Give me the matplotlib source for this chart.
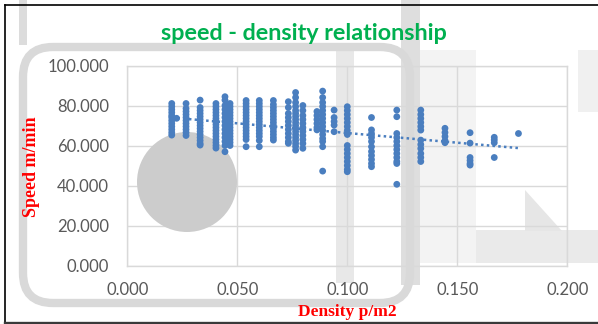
import numpy as np
import matplotlib
matplotlib.use('Agg')
import matplotlib.pyplot as plt
from matplotlib.patches import Ellipse, FancyBboxPatch, Rectangle, Polygon
from matplotlib.transforms import IdentityTransform

W, H = 598, 324

## Data: one density column -> list of speeds
densities = [0.0202, 0.0224, 0.0267, 0.0331, 0.0403, 0.0444, 0.0467, 0.0540,
             0.0600, 0.0664, 0.0732, 0.0765, 0.0798, 0.0862, 0.0888, 0.0940,
             0.1000, 0.1110, 0.1225, 0.1334, 0.1444, 0.1558, 0.1668, 0.1778]
speeds = [
    [81.0, 79.5, 78.0, 76.5, 75.0, 74.0, 72.5, 71.0, 69.5, 68.0, 66.5, 65.2],
    [73.6],
    [81.0, 78.5, 77.0, 75.5, 74.0, 72.5, 71.0, 69.5, 68.0, 66.5, 65.0],
    [82.7, 79.0, 77.5, 76.0, 74.5, 73.0, 71.5, 70.0, 68.5, 67.0, 65.5, 64.0, 62.5, 61.0, 60.2],
    [81.0, 79.5, 78.0, 76.5, 75.0, 73.5, 72.0, 70.5, 69.0, 67.5, 66.0, 64.5, 63.0, 61.5, 60.0, 58.7],
    [84.4, 82.7, 80.0, 78.0, 76.0, 74.0, 72.0, 70.0, 68.0, 66.0, 64.0, 62.0, 60.0, 56.9],
    [81.0, 79.5, 78.0, 76.5, 75.0, 73.5, 72.0, 70.5, 69.0, 67.5, 66.0, 64.5, 63.0, 61.5, 60.0],
    [82.5, 81.0, 79.5, 78.0, 76.5, 75.0, 73.5, 72.0, 70.5, 69.0, 67.5, 66.0, 64.5, 63.0, 59.4],
    [82.5, 81.0, 79.5, 78.0, 76.5, 75.0, 73.5, 72.0, 70.5, 69.0, 67.5, 66.0, 64.5, 62.5, 59.4],
    [82.5, 80.5, 79.0, 77.5, 76.0, 74.5, 73.0, 71.5, 70.0, 68.5, 67.0, 65.5, 64.0, 62.7],
    [81.9, 79.0, 76.0, 74.0, 72.0, 70.0, 68.0, 66.0, 64.0, 62.0, 61.1],
    [86.5, 84.0, 81.5, 79.5, 77.5, 76.0, 74.5, 73.0, 71.5, 70.0, 68.5, 67.0, 65.5, 64.0, 62.5, 61.0, 59.5, 57.7],
    [80.0, 77.5, 75.0, 73.0, 71.0, 69.0, 67.0, 65.0, 63.0, 61.0, 58.6],
    [77.0, 75.0, 73.0, 71.0, 69.0, 67.8],
    [87.2, 84.0, 81.5, 79.5, 77.5, 75.5, 73.5, 71.5, 69.5, 67.5, 65.5, 63.5, 62.0, 59.4, 47.2],
    [77.7, 74.0, 72.0, 70.2, 66.9],
    [79.4, 77.5, 75.5, 73.5, 71.5, 69.5, 67.5, 65.5, 60.0, 58.0, 56.0, 54.0, 52.0, 50.0, 48.0, 46.9],
    [74.0, 67.8, 66.0, 64.0, 62.0, 59.4, 57.0, 55.0, 53.0, 51.0, 49.4],
    [77.7, 74.4, 66.0, 64.0, 62.0, 60.0, 58.0, 56.0, 54.0, 52.0, 51.0, 40.6],
    [77.7, 75.5, 73.5, 71.5, 69.5, 67.7, 62.7, 60.5, 58.5, 56.0, 54.0, 52.0],
    [68.6, 66.5, 64.5, 62.5, 61.4],
    [66.4, 61.2, 54.0, 52.5, 51.0, 50.2],
    [64.1, 62.8, 61.4, 54.0],
    [66.0],
]

x_ticks = [0.0, 0.05, 0.10, 0.15, 0.20]
y_ticks = [0, 20, 40, 60, 80, 100]

title = 'speed - density relationship'
x_label = 'Density p/m2'
y_label = 'Speed m/min'

blue = '#4a7ebf'

x = np.concatenate([[d] * len(s) for d, s in zip(densities, speeds)])
y = np.concatenate(speeds)

fig = plt.figure(figsize=(W / 100, H / 100), dpi=100)
fig.patch.set_facecolor('white')

def pix(px, py):
    # top-left pixel coords -> display coords
    return px, H - py

grey_kw = dict(transform=IdentityTransform(), zorder=-1, linewidth=0)

# washed out overlay shapes sitting behind the chart
fig.patches.append(Rectangle(pix(420, 263), 56, 213, facecolor='#f3f3f3', **grey_kw))
fig.patches.append(Rectangle(pix(336, 283), 18, 238, facecolor='#e8e8e8', **grey_kw))
fig.patches.append(Rectangle(pix(401, 285), 19, 285, facecolor='#dedede', **grey_kw))
fig.patches.append(Rectangle(pix(19, 45), 8, 45, facecolor='#dcdcdc', **grey_kw))
fig.patches.append(Rectangle(pix(476, 263), 122, 33, facecolor='#eaeaea', **grey_kw))
fig.patches.append(Rectangle(pix(578, 112), 20, 62, facecolor='#f0f0f0', **grey_kw))
fig.patches.append(Polygon([pix(525, 190), pix(562, 231), pix(525, 231)],
                           closed=True, facecolor='#e6e6e6', **grey_kw))
fx, fy = pix(23, 303)
fig.patches.append(FancyBboxPatch((fx, fy), 387, 256,
                                  boxstyle='round,pad=0,rounding_size=30',
                                  facecolor='none', edgecolor='#d9d9d9',
                                  linewidth=6, transform=IdentityTransform(), zorder=-1))

ax = fig.add_axes([127.3 / W, 1 - 265.5 / H, 440 / W, 200 / H])
ax.set_facecolor('none')

# big grey disc over the grid
cx, cy = pix(187, 182)
disc = Ellipse((cx, cy), 100, 100, transform=IdentityTransform(),
               facecolor='#cccccc', edgecolor='none', zorder=1.8)
ax.add_artist(disc)

ax.scatter(x, y, s=24, color=blue, edgecolors='none', zorder=3)

# linear trendline
k, b = np.polyfit(x, y, 1)
xt = np.array([x.min(), x.max()])
ax.plot(xt, k * xt + b, color=blue, linestyle=(0, (1, 1.3)), linewidth=1.8, zorder=2.5)

ax.set_xlim(0, 0.2)
ax.set_ylim(0, 100)
ax.set_xticks(x_ticks)
ax.set_yticks(y_ticks)
ax.set_xticklabels(['%.3f' % v for v in x_ticks])
ax.set_yticklabels(['%.3f' % v for v in y_ticks])
ax.tick_params(length=0, labelcolor='#595959', labelsize=12)
ax.tick_params(axis='x', pad=12)
ax.tick_params(axis='y', pad=13)
for lab in ax.get_xticklabels() + ax.get_yticklabels():
    lab.set_family('Lato')
ax.grid(True, color='#d9d9d9', linewidth=1)
for sp in ax.spines.values():
    sp.set_color('#d9d9d9')
    sp.set_linewidth(1)

fig.text(304 / W, 1 - 33 / H, title, color='#00b050', fontsize=16.8,
         fontweight='bold', family='Lato', ha='center', va='center')
fig.text(31.7 / W, 1 - 166.5 / H, y_label, color='red', fontsize=13,
         fontweight='bold', family='Liberation Serif', rotation=90,
         ha='center', va='center')
fig.text(347 / W, 1 - 304 / H, x_label, color='red', fontsize=12.5,
         fontweight='bold', family='Liberation Serif', ha='center', va='top')

# outer frame of the screenshot
fig.lines.append(plt.Line2D([5, 5], [0, H - 5], color='black', linewidth=1.2,
                            transform=IdentityTransform()))
fig.lines.append(plt.Line2D([5, W], [H - 5, H - 5], color='black', linewidth=1.2,
                            transform=IdentityTransform()))
fig.lines.append(plt.Line2D([5, W], [1.5, 1.5], color='#3a3a3a', linewidth=2.4,
                            transform=IdentityTransform()))

fig.savefig('out.png', dpi=100)
